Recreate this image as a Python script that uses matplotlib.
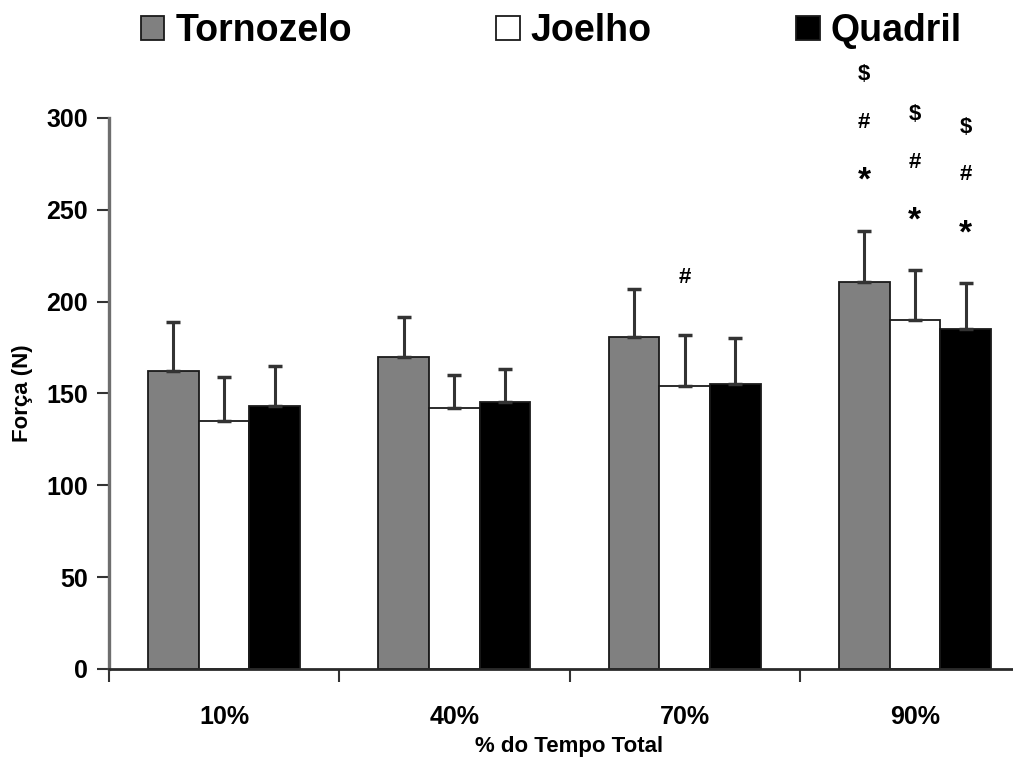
import matplotlib
matplotlib.use("Agg")
import matplotlib.pyplot as plt
import numpy as np

plt.rcParams['font.family'] = ['Liberation Sans', 'DejaVu Sans']
plt.rcParams['font.weight'] = 'bold'

# Data: mean force (N) and standard deviation per joint at each % of total time
categories = ['10%', '40%', '70%', '90%']
series_names = ['Tornozelo', 'Joelho', 'Quadril']
tornozelo_mean = [162, 170, 181, 210.5]
tornozelo_sd = [27, 21.5, 26, 28]
joelho_mean = [135, 142, 154, 190]
joelho_sd = [24, 18, 28, 27]
quadril_mean = [143, 145.5, 155, 185]
quadril_sd = [22, 18, 25, 25]

# Significance markers stacked above each bar: (category index, series index, symbols bottom-up)
markers = [
    (2, 1, ['#']),
    (3, 0, ['*', '#', '$']),
    (3, 1, ['*', '#', '$']),
    (3, 2, ['*', '#', '$']),
]

means = [tornozelo_mean, joelho_mean, quadril_mean]
sds = [tornozelo_sd, joelho_sd, quadril_sd]
faces = ['#808080', '#ffffff', '#000000']

fig = plt.figure(figsize=(10.13, 7.58), dpi=100)
ax = fig.add_axes([109 / 1013, 89 / 758, 921 / 1013, 551 / 758])

x = np.arange(len(categories))
width = 0.22
offsets = [-width, 0.0, width]

handles = []
for s in range(3):
    b = ax.bar(x + offsets[s], means[s], width, color=faces[s],
               edgecolor='#1a1a1a', linewidth=1.3, label=series_names[s], zorder=2)
    handles.append(b)
    ax.errorbar(x + offsets[s], means[s],
                yerr=[np.zeros(len(categories)), sds[s]],
                fmt='none', ecolor='#333333', elinewidth=2.2,
                capsize=5, capthick=2.5, zorder=3)

# Significance symbols
first_gap, step = 31, 28
sym_size = {'*': 24, '#': 16, '$': 16}
sym_shift = {'*': -4, '#': 0, '$': -2}
for ci, si, syms in markers:
    top = means[si][ci] + sds[si][ci]
    for k, sym in enumerate(syms):
        ax.text(x[ci] + offsets[si], top + first_gap + k * step + sym_shift[sym], sym,
                ha='center', va='center', fontsize=sym_size[sym], fontweight='bold',
                color='black', clip_on=False)

ax.set_xlim(-0.5, len(categories) - 0.5)
ax.set_ylim(0, 300)
ax.set_yticks(np.arange(0, 301, 50))
ax.set_xticks(x)
ax.set_xticklabels(categories)
ax.set_xticks(np.arange(-0.5, len(categories) + 0.5, 1.0), minor=True)

ax.tick_params(axis='x', which='major', length=0, pad=26, labelsize=18)
ax.tick_params(axis='x', which='minor', length=9, width=1.5, color='#333333', direction='out')
ax.tick_params(axis='y', which='major', length=9, width=1.5, color='#333333',
               direction='out', pad=6, labelsize=18)

for side in ['top', 'right']:
    ax.spines[side].set_visible(False)
ax.spines['left'].set_color('#6e6e6e')
ax.spines['left'].set_linewidth(2.4)
ax.spines['bottom'].set_color('#2a2a2a')
ax.spines['bottom'].set_linewidth(2.0)

ax.set_xlabel('% do Tempo Total', fontsize=16, fontweight='bold', labelpad=5)
ax.set_ylabel('Força (N)', fontsize=16, fontweight='bold', labelpad=10)

fig.legend(handles=handles, labels=series_names, loc='center left',
           bbox_to_anchor=(122 / 1013, 1 - 31 / 758), ncol=3, frameon=False,
           prop={'size': 27, 'weight': 'bold'}, handlelength=0.62, handleheight=0.62,
           handletextpad=0.3, columnspacing=3.85, borderpad=0.0)

fig.savefig('out.png', dpi=100)
